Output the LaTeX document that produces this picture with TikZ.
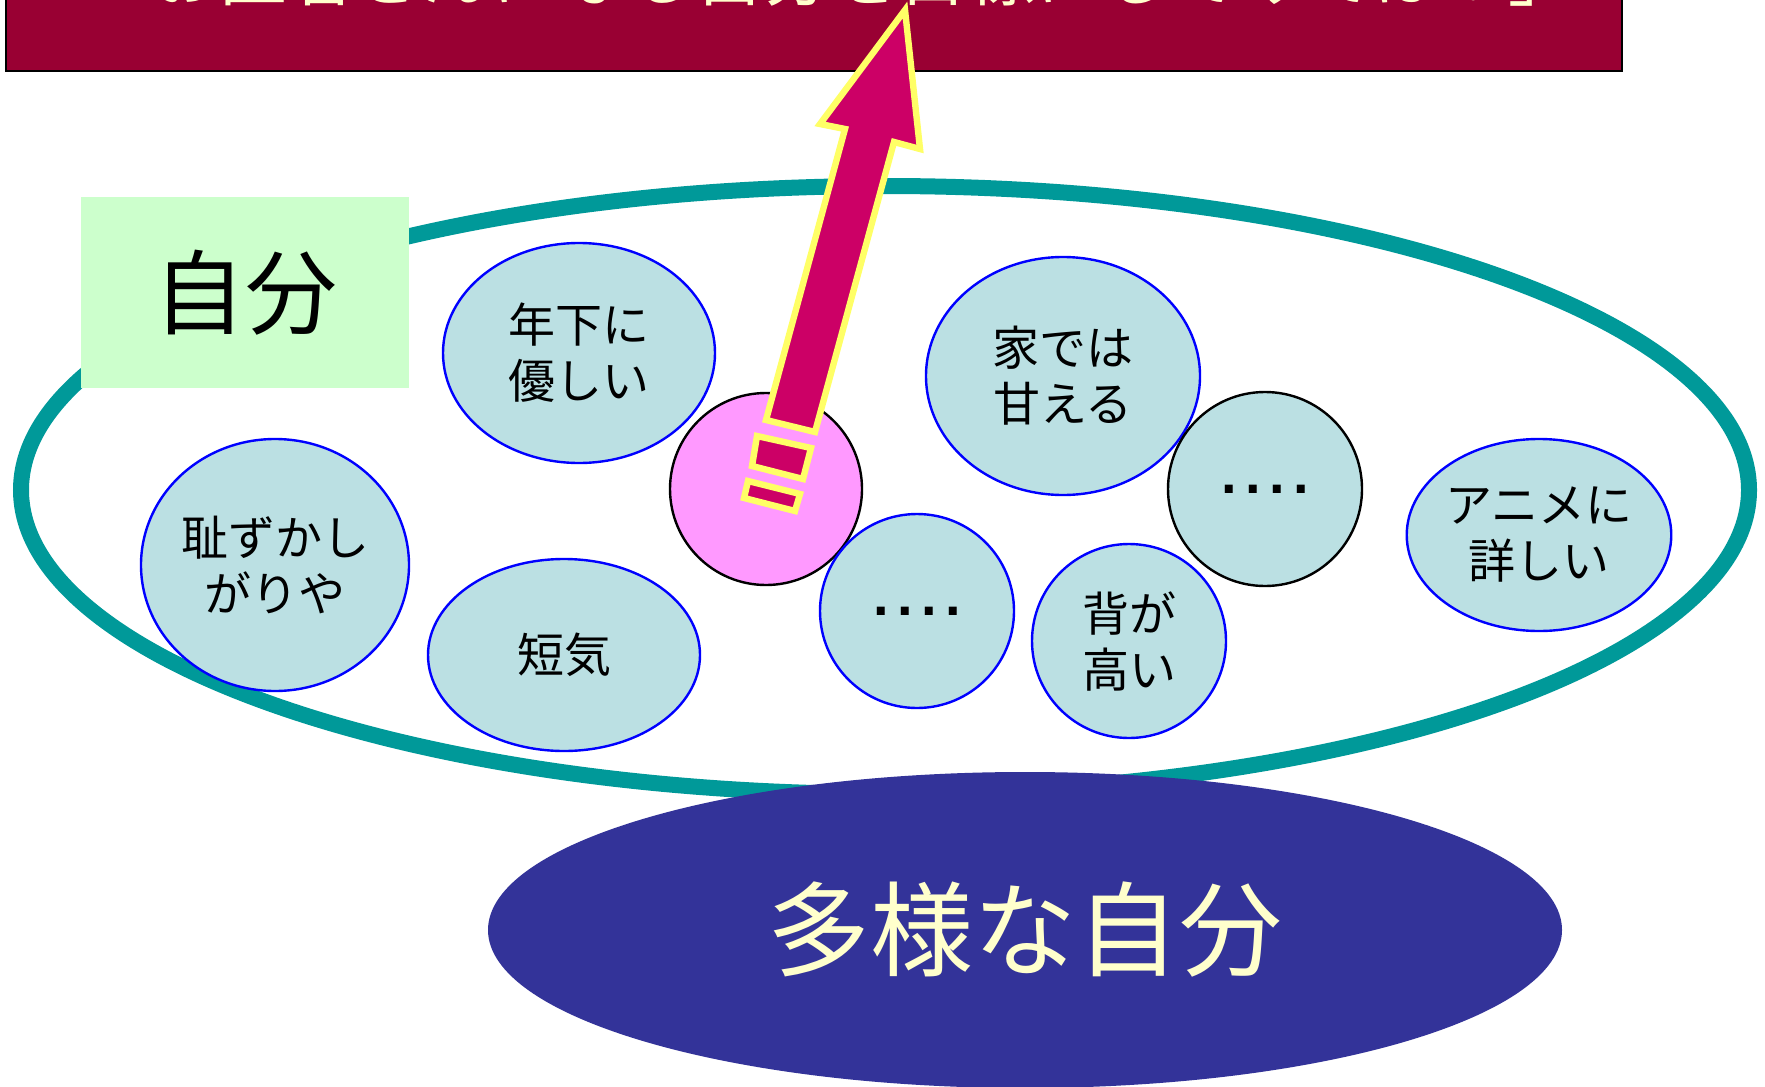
\documentclass[tikz,border=0pt]{standalone}
\usepackage{fontspec}
\setmainfont{Noto Sans CJK JP}
\newfontfamily\arialfont{Liberation Sans}
\usetikzlibrary{shapes.geometric}
\definecolor{bannerc}{HTML}{990033}
\definecolor{cream}{HTML}{FFFFCC}
\definecolor{tealc}{HTML}{009999}
\definecolor{mint}{HTML}{CCFFCC}
\definecolor{bubblec}{HTML}{BBE0E3}
\definecolor{pinkc}{HTML}{FF99FF}
\definecolor{arrowc}{HTML}{CC0066}
\definecolor{yell}{HTML}{FFFF66}
\definecolor{navyc}{HTML}{333399}
\newcommand{\dotrow}{{\arialfont\bfseries\fontsize{28}{28}\selectfont .\kern4.2pt.\kern4.2pt.\kern4.2pt.}}
\begin{document}
\begin{tikzpicture}[x=0.5pt,y=-0.5pt,
  bubble/.style={ellipse, draw=blue, line width=1.2pt, fill=bubblec, inner sep=0pt,
    align=center, font=\fontsize{23.5}{28}\selectfont},
  blackbubble/.style={bubble, draw=black},
  blockarrow/.style={fill=arrowc, draw=yell, line width=3.2pt, line join=miter}]
\useasboundingbox (0,0) rectangle (1765,1086);
\fill[white] (0,0) rectangle (1765,1086);
\clip (0,0) rectangle (1765,1086);
% banner
\draw[fill=bannerc, draw=black, line width=1pt] (6,-40) rectangle (1622,71);
\node[anchor=base, text=cream, font=\fontsize{34}{34}\selectfont, inner sep=0pt] (bannertext) at (830,1) {「お医者さんになる自分を目標にしてみては？」};
% big teal ellipse
\node[ellipse, draw=tealc, line width=8pt, minimum width=864pt, minimum height=304pt, inner sep=0pt] (self) at (885,490) {};
% label box
\node[rectangle, fill=mint, minimum width=164pt, minimum height=95.5pt, inner sep=0pt,
  font=\fontsize{46}{46}\selectfont] (selfbox) at (245,292.5) {自分};
% bubbles
\node[bubble, minimum width=136pt, minimum height=110pt] (kind) at (579,353) {年下に\\優しい};
\node[bubble, minimum width=134pt, minimum height=126pt] (shy) at (275,565) {耻ずかし\\がりや};
\node[bubble, minimum width=136pt, minimum height=96pt] (short) at (564,655) {短気};
\node[blackbubble, fill=pinkc, minimum width=96pt, minimum height=96pt] (pink) at (766,489) {};
\node[bubble, minimum width=97pt, minimum height=97pt] (dotsa) at (917,611) {\dotrow};
\node[bubble, minimum width=137pt, minimum height=119pt] (home) at (1063,376) {家では\\甘える};
\node[bubble, minimum width=97pt, minimum height=97pt] (tall) at (1129,641) {背が\\高い};
\node[blackbubble, minimum width=97pt, minimum height=97pt] (dotsb) at (1265,489) {\dotrow};
\node[bubble, minimum width=129pt, minimum height=96pt] (anime) at (1539,535) {アニメに\\詳しい};
% block arrow with exclamation
\draw[blockarrow] (905,10) -- (920,149) -- (894,142) -- (815,432) -- (766,420) -- (845,129) -- (820,124) -- cycle;
\draw[blockarrow] (757,436) -- (811,448) -- (803,479) -- (752,466) -- cycle;
\draw[blockarrow] (748,481) -- (800,494) -- (795,511) -- (744,498) -- cycle;
% diverse self
\node[ellipse, fill=navyc, minimum width=537pt, minimum height=158pt, inner sep=0pt,
  text=cream, font=\fontsize{51.5}{51.5}\selectfont] (diverse) at (1025,930) {多様な自分};
\end{tikzpicture}
\end{document}
